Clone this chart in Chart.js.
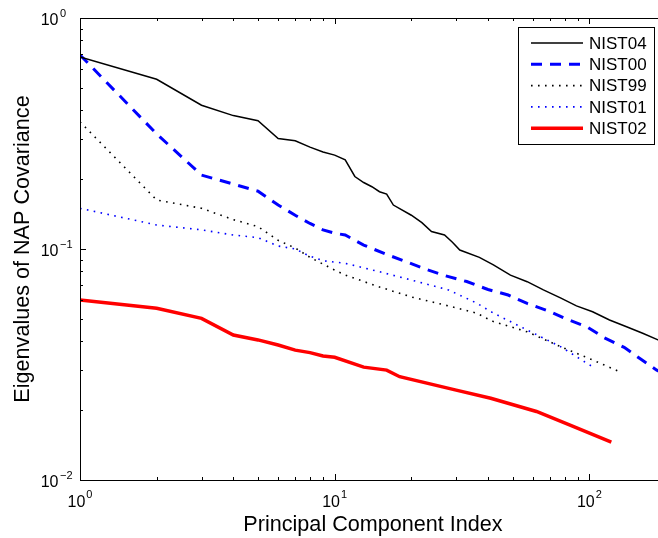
<!DOCTYPE html>
<html>
<head>
<meta charset="utf-8">
<script src="https://cdn.jsdelivr.net/npm/chart.js@4.4.0/dist/chart.umd.min.js"></script>
<style>
  html, body { margin: 0; padding: 0; background: #fff; overflow: hidden; }
  #wrap { width: 658px; height: 538px; overflow: hidden; }
</style>
</head>
<body>
<div id="wrap"><canvas id="chart" width="670" height="538"></canvas></div>
<script>
// series values (x = component index, y = eigenvalue)
var nist04X = [1, 2, 3, 4, 5, 6, 7, 8, 9, 10, 11, 12, 13, 14, 15, 16, 17, 20, 22, 24, 27, 29, 31, 37, 42, 49, 57, 66, 77, 89, 103, 120, 140, 162, 186, 200];
var nist04Y = [0.678, 0.543, 0.419, 0.378, 0.359, 0.301, 0.294, 0.276, 0.263, 0.255, 0.243, 0.206, 0.194, 0.186, 0.177, 0.173, 0.155, 0.140, 0.130, 0.119, 0.115, 0.107, 0.099, 0.092, 0.0853, 0.0771, 0.0722, 0.0665, 0.0614, 0.0567, 0.0535, 0.0493, 0.0461, 0.0432, 0.0404, 0.0392];

var nist00X = [1, 2, 3, 4, 5, 6, 7, 8, 9, 10, 11, 13, 16, 19, 23, 27, 33, 40, 48, 57, 69, 81, 98, 114, 137, 159, 184, 200];
var nist00Y = [0.692, 0.315, 0.209, 0.191, 0.178, 0.155, 0.140, 0.129, 0.121, 0.117, 0.115, 0.104, 0.0947, 0.0883, 0.0815, 0.0768, 0.0723, 0.0668, 0.0632, 0.0581, 0.0539, 0.0498, 0.0460, 0.0414, 0.0375, 0.0334, 0.0299, 0.0285];

var nist99X = [1, 2, 3, 4, 5, 6, 7, 8, 10, 11, 15, 20, 28, 36, 42, 57, 77, 103, 129];
var nist99Y = [0.355, 0.163, 0.150, 0.134, 0.125, 0.109, 0.101, 0.092, 0.081, 0.0771, 0.0685, 0.0620, 0.0567, 0.0528, 0.0485, 0.0438, 0.0378, 0.0331, 0.0297];

var nist01X = [1, 2, 3, 4, 5, 6, 7, 8, 9, 11, 15, 20, 28, 36, 42, 57, 77, 103];
var nist01Y = [0.150, 0.127, 0.121, 0.115, 0.112, 0.103, 0.100, 0.093, 0.089, 0.0867, 0.0797, 0.0734, 0.0665, 0.0584, 0.0528, 0.0446, 0.0378, 0.0309];

var nist02X = [1, 2, 3, 4, 5, 6, 7, 8, 9, 10, 13, 16, 18, 30, 41, 62, 84, 122];
var nist02Y = [0.0602, 0.0554, 0.0501, 0.0424, 0.0404, 0.0384, 0.0365, 0.0356, 0.0344, 0.0340, 0.0308, 0.0299, 0.0280, 0.0245, 0.0226, 0.0198, 0.0173, 0.0146];

var seriesNames = ["NIST04", "NIST00", "NIST99", "NIST01", "NIST02"];

// tick labels (10 with exponent)
var xTickValues = [1, 10, 100];
var xTickExps = ["0", "1", "2"];
var yTickValues = [0.01, 0.1, 1];
var yTickExps = ["\u22122", "\u22121", "0"];
var xMinorValues = [2, 3, 4, 5, 6, 7, 8, 9, 20, 30, 40, 50, 60, 70, 80, 90, 200];
var yMinorValues = [0.02, 0.03, 0.04, 0.05, 0.06, 0.07, 0.08, 0.09, 0.2, 0.3, 0.4, 0.5, 0.6, 0.7, 0.8, 0.9];

var FONT = "'Liberation Sans', Arial, Helvetica, sans-serif";

function pts(xs, ys) {
  return xs.map(function(x, i) { return { x: x, y: ys[i] }; });
}

// frame, inward ticks and tick labels drawn MATLAB-style
var framePlugin = {
  id: "frame",
  afterDraw: function(chart) {
    var ctx = chart.ctx, a = chart.chartArea;
    var xs = chart.scales.x, ys = chart.scales.y;
    ctx.save();
    ctx.strokeStyle = "#000";
    ctx.lineWidth = 1;
    ctx.strokeRect(a.left + 0.5, a.top + 0.5, a.right - a.left, a.bottom - a.top);

    function xTick(v, len) {
      var p = Math.round(xs.getPixelForValue(v)) + 0.5;
      ctx.beginPath();
      ctx.moveTo(p, a.bottom); ctx.lineTo(p, a.bottom - len);
      ctx.moveTo(p, a.top); ctx.lineTo(p, a.top + len);
      ctx.stroke();
    }
    function yTick(v, len) {
      var p = Math.round(ys.getPixelForValue(v)) + 0.5;
      ctx.beginPath();
      ctx.moveTo(a.left, p); ctx.lineTo(a.left + len, p);
      ctx.moveTo(a.right, p); ctx.lineTo(a.right - len, p);
      ctx.stroke();
    }
    xMinorValues.forEach(function(v) { xTick(v, 3); });
    xTickValues.forEach(function(v) { xTick(v, 6); });
    yMinorValues.forEach(function(v) { yTick(v, 3); });
    yTickValues.forEach(function(v) { yTick(v, 6); });

    ctx.fillStyle = "#000";
    ctx.textBaseline = "alphabetic";
    // x tick labels
    xTickValues.forEach(function(v, i) {
      var p = xs.getPixelForValue(v);
      ctx.font = "16px " + FONT;
      var w1 = ctx.measureText("10").width;
      ctx.font = "11px " + FONT;
      var w2 = ctx.measureText(xTickExps[i]).width;
      var x0 = p - (w1 + 1 + w2) / 2;
      ctx.font = "16px " + FONT;
      ctx.textAlign = "left";
      ctx.fillText("10", x0, 507);
      ctx.font = "11px " + FONT;
      ctx.fillText(xTickExps[i], x0 + w1 + 1, 498);
    });
    // y tick labels
    yTickValues.forEach(function(v, i) {
      var p = ys.getPixelForValue(v);
      ctx.font = "16px " + FONT;
      ctx.textAlign = "right";
      ctx.fillText("10", a.left - 21.5, p + 7);
      ctx.font = "11px " + FONT;
      ctx.textAlign = "left";
      ctx.fillText(yTickExps[i], a.left - 20, p - 1);
    });

    // legend box
    var bx = 518, by = 27, bw = 136, bh = 117;
    ctx.fillStyle = "#fff";
    ctx.fillRect(bx, by, bw, bh);
    ctx.strokeStyle = "#000";
    ctx.lineWidth = 1;
    ctx.strokeRect(bx + 0.5, by + 0.5, bw, bh);
    chart.data.datasets.forEach(function(ds, i) {
      var y = 43 + i * 21.3;
      ctx.save();
      ctx.strokeStyle = ds.borderColor;
      ctx.lineWidth = ds.borderWidth;
      ctx.setLineDash(ds.borderDash || []);
      ctx.beginPath();
      ctx.moveTo(531, y);
      ctx.lineTo(583, y);
      ctx.stroke();
      ctx.restore();
      ctx.fillStyle = "#000";
      ctx.font = "17px " + FONT;
      ctx.textAlign = "left";
      ctx.textBaseline = "middle";
      ctx.fillText(ds.label, 589, y + 1);
    });
    ctx.restore();
  }
};

var data = {
  datasets: [
    { label: seriesNames[0], data: pts(nist04X, nist04Y), borderColor: "#000000", borderWidth: 1.5, borderDash: [] },
    { label: seriesNames[1], data: pts(nist00X, nist00Y), borderColor: "#0000ff", borderWidth: 3, borderDash: [11, 8] },
    { label: seriesNames[2], data: pts(nist99X, nist99Y), borderColor: "#000000", borderWidth: 1.6, borderDash: [1.6, 5.4] },
    { label: seriesNames[3], data: pts(nist01X, nist01Y), borderColor: "#0000ff", borderWidth: 1.6, borderDash: [1.6, 5.4] },
    { label: seriesNames[4], data: pts(nist02X, nist02Y), borderColor: "#ff0000", borderWidth: 3.5, borderDash: [] }
  ]
};
data.datasets.forEach(function(ds) {
  ds.pointRadius = 0;
  ds.fill = false;
  ds.tension = 0;
  ds.borderCapStyle = "butt";
});

var options = {
  responsive: false,
  animation: false,
  layout: { padding: { top: 18, right: 4, bottom: 0, left: 0 } },
  plugins: { legend: { display: false }, tooltip: { enabled: false } },
  scales: {
    x: {
      type: "logarithmic",
      min: 1,
      max: 200,
      grid: { display: false },
      border: { display: false },
      ticks: { display: false },
      title: {
        display: true,
        text: "Principal Component Index",
        color: "#000",
        font: { family: FONT, size: 21.6 },
        padding: { top: 0, bottom: 0 }
      },
      afterFit: function(scale) { scale.height = 58; }
    },
    y: {
      type: "logarithmic",
      min: 0.01,
      max: 1,
      grid: { display: false },
      border: { display: false },
      ticks: { display: false },
      title: {
        display: true,
        text: "Eigenvalues of NAP Covariance",
        color: "#000",
        font: { family: FONT, size: 21.6 },
        padding: { top: 10, bottom: 0 }
      },
      afterFit: function(scale) { scale.width = 80; }
    }
  }
};

var chart = new Chart(document.getElementById("chart"), {
  type: "line",
  data: data,
  options: options,
  plugins: [framePlugin]
});
</script>
</body>
</html>
